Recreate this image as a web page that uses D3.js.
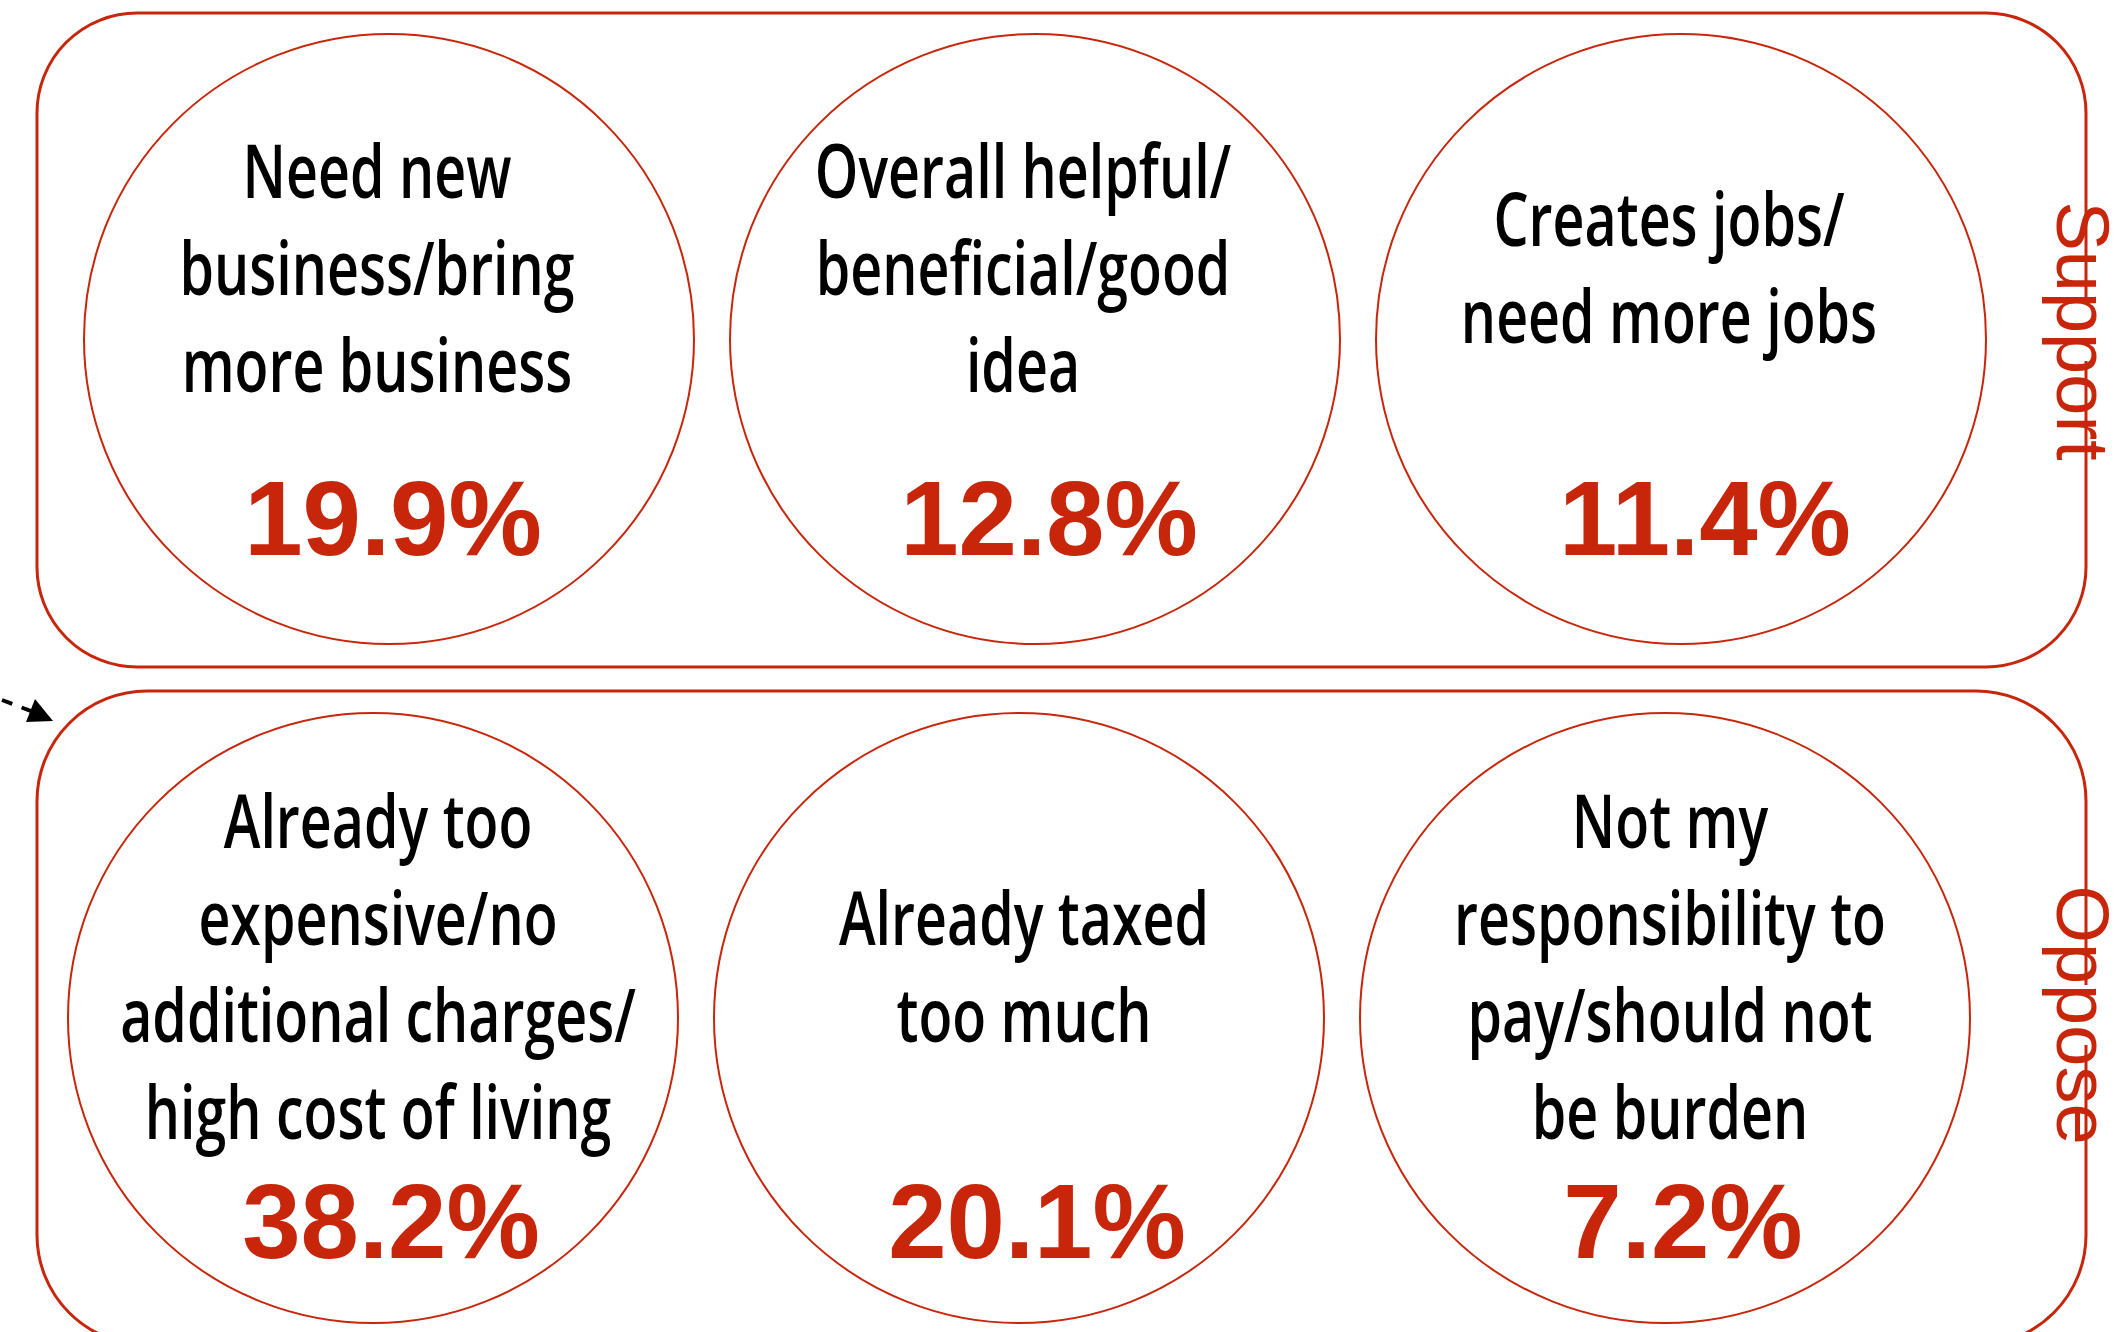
<!DOCTYPE html>
<html>
<head>
<meta charset="utf-8">
<script src="https://cdn.jsdelivr.net/npm/d3@7"></script>
<style>
  body { margin: 0; background: #fff; }
  svg { display: block; }
</style>
</head>
<body>
<script>
'use strict';
// rows of the panel and the reasons in each
var groups = ["Support", "Oppose"];
var supportLabels = [
    ["Need new", "business/bring", "more business"],
    ["Overall helpful/", "beneficial/good", "idea"],
    ["Creates jobs/", "need more jobs"]
];
var supportValues = [19.9, 12.8, 11.4];
var opposeLabels = [
    ["Already too", "expensive/no", "additional charges/", "high cost of living"],
    ["Already taxed", "too much"],
    ["Not my", "responsibility to", "pay/should not", "be burden"]
];
var opposeValues = [38.2, 20.1, 7.2];

var red = "#c8260b";
var width = 2126, height = 1332;

var svg = d3.select("body")
    .append("svg")
    .attr("width", width)
    .attr("height", height);

// build one table from the arrays
var cells = [];
supportLabels.forEach(function(l, i) {
    cells.push({group: "Support", col: i, lines: l, value: supportValues[i]});
});
opposeLabels.forEach(function(l, i) {
    cells.push({group: "Oppose", col: i, lines: l, value: opposeValues[i]});
});

// scales
var xScale = d3.scalePoint().domain([0, 1, 2]).range([389, 1681]);
var rowShift = d3.scaleOrdinal().domain(groups).range([0, -16]);
var yScale = d3.scalePoint().domain(groups).range([339, 1018]);
var r = 305;
var lineH = 97;

function cx(d) { return xScale(d.col) + rowShift(d.group); }
function cy(d) { return yScale(d.group); }
function isSupport(d) { return d.group == "Support"; }

// group boxes
svg.append("g").selectAll("rect")
    .data(groups)
    .enter()
    .append("rect")
    .attr("x", 37)
    .attr("y", function(d) { return d == "Support" ? 13 : 691; })
    .attr("width", 2049)
    .attr("height", 654)
    .attr("rx", function(d) { return d == "Support" ? 100 : 110; })
    .attr("fill", "none")
    .attr("stroke", red)
    .attr("stroke-width", 3);

// group labels on the right edge, masking the box line
var tags = svg.append("g").selectAll("g")
    .data(groups)
    .enter()
    .append("g")
    .attr("transform", function(d) {
        return "translate(2057," + (d == "Support" ? 331 : 1015) + ")";
    });
tags.append("rect")
    .attr("x", -145).attr("y", -30)
    .attr("width", 290).attr("height", 60)
    .attr("fill", "#fff");
tags.append("text")
    .attr("transform", "rotate(90)")
    .attr("text-anchor", "middle")
    .attr("font-family", "'Liberation Sans', Arial, sans-serif")
    .attr("font-size", 74)
    .attr("fill", red)
    .text(function(d) { return d; });

// arrow at left
svg.append("line")
    .attr("x1", 2).attr("y1", 700)
    .attr("x2", 36).attr("y2", 713)
    .attr("stroke", "#000")
    .attr("stroke-width", 4)
    .attr("stroke-dasharray", "11,10");
svg.append("path")
    .attr("d", "M53,721 L35,699 L26,722 Z")
    .attr("fill", "#000");

// circles
var cellG = svg.append("g").selectAll("g")
    .data(cells)
    .enter()
    .append("g");

cellG.append("circle")
    .attr("cx", cx)
    .attr("cy", cy)
    .attr("r", r)
    .attr("fill", "none")
    .attr("stroke", red)
    .attr("stroke-width", 2);

// reason text, squeezed horizontally to look condensed
cellG.append("text")
    .attr("transform", function(d) {
        return "translate(" + (cx(d) + (isSupport(d) ? -12 : 5)) + ",0) scale(0.74,1)";
    })
    .attr("text-anchor", "middle")
    .attr("font-family", "'Open Sans', 'Noto Sans', sans-serif")
    .attr("font-weight", 600)
    .attr("font-size", 75)
    .attr("fill", "#000")
    .each(function(d) {
        var n = d.lines.length;
        var mid = cy(d) + (isSupport(d) ? -44 : -24);
        var t = d3.select(this);
        d.lines.forEach(function(line, i) {
            t.append("tspan")
                .attr("x", 0)
                .attr("y", mid + (i - (n - 1) / 2) * lineH)
                .text(line);
        });
    });

// percentages
cellG.append("text")
    .attr("x", function(d) { return cx(d) + (isSupport(d) ? 4 + d.col * 10 : 18); })
    .attr("y", function(d) { return cy(d) + (isSupport(d) ? 216 : 240); })
    .attr("text-anchor", "middle")
    .attr("font-family", "'Liberation Sans', Arial, sans-serif")
    .attr("font-weight", "bold")
    .attr("font-size", 105)
    .attr("fill", red)
    .text(function(d) { return d.value.toFixed(1) + "%"; });
</script>
</body>
</html>
